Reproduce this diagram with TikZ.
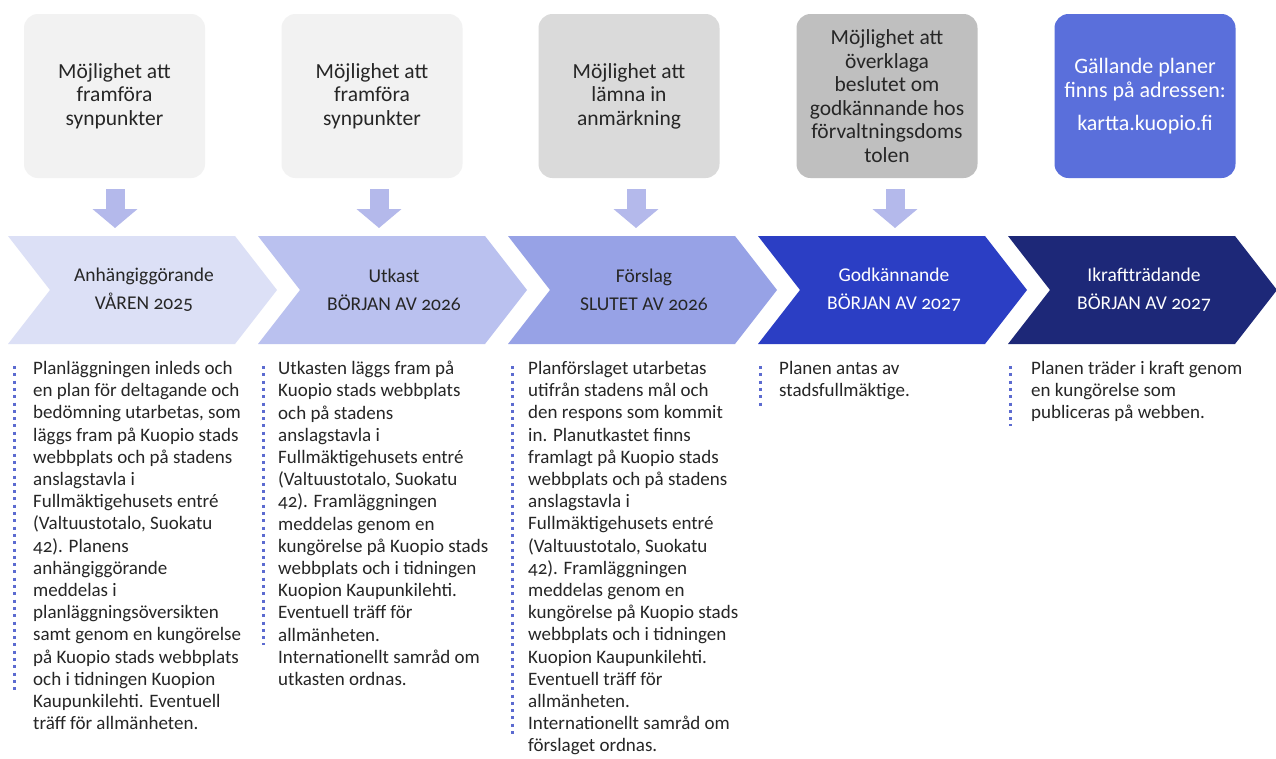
\documentclass[tikz,border=0pt]{standalone}
\usepackage{fontspec}
\setmainfont{Carlito}[Numbers=OldStyle]
\definecolor{boxA}{HTML}{F2F2F2}
\definecolor{boxC}{HTML}{DADADA}
\definecolor{boxD}{HTML}{BFBFBF}
\definecolor{boxE}{HTML}{5A6FDB}
\definecolor{arrowc}{HTML}{B4B9EB}
\definecolor{chA}{HTML}{DCE0F6}
\definecolor{chB}{HTML}{BAC1EF}
\definecolor{chC}{HTML}{97A2E6}
\definecolor{chD}{HTML}{2B3EC4}
\definecolor{chE}{HTML}{1D2878}
\definecolor{dotc}{HTML}{5C6BD0}
\definecolor{txt}{HTML}{262626}
\usetikzlibrary{arrows.meta}
\begin{document}
\begin{tikzpicture}[x=1pt,y=-1pt,
  topbox/.style={rounded corners=14pt, minimum width=181pt, minimum height=164pt, align=center, inner sep=0pt, text=txt, font=\fontsize{21.5}{23.5}\selectfont},
  chevlabel/.style={align=center, inner sep=0pt, font=\fontsize{19.5}{28}\selectfont},
  downarrow/.style={line width=19pt, arrowc, -{Triangle[width=44pt,length=19pt]}},
  dotline/.style={line width=3pt, dotc, dash pattern=on 3pt off 4.3pt},
  coltext/.style={anchor=north west, align=left, inner sep=0pt, text=txt, font=\fontsize{19}{22.2}\selectfont}]
\useasboundingbox (0,0) rectangle (1276,758);
\fill[white] (0,0) rectangle (1276,758);

% top boxes
\node[topbox, fill=boxA] (t1) at (114.5,96) {Möjlighet att\\framföra\\synpunkter};
\node[topbox, fill=boxA] (t2) at (372,96) {Möjlighet att\\framföra\\synpunkter};
\node[topbox, fill=boxC] (t3) at (629,96) {Möjlighet att\\lämna in\\anmärkning};
\node[topbox, fill=boxD] (t4) at (887,96) {Möjlighet att\\överklaga\\beslutet om\\godkännande hos\\förvaltningsdoms\\tolen};
\node[topbox, fill=boxE, text=white, font=\fontsize{22}{24}\selectfont] (t5) at (1145,96) {Gällande planer\\finns på adressen:\\[9pt]kartta.kuopio.fi};

% chevrons
\foreach \i/\c in {0/chA,1/chB,2/chC,3/chD,4/chE}{
  \pgfmathsetmacro{\xo}{8+250*\i}
  \fill[\c] (\xo,236) -- (\xo+227,236) -- (\xo+269,290) -- (\xo+227,344) -- (\xo,344) -- (\xo+42,290) -- cycle;
}
\node[chevlabel, text=txt] (c1) at (144,290) {Anhängiggörande\\VÅREN 2025};
\node[chevlabel, text=txt] (c2) at (394,290) {Utkast\\BÖRJAN AV 2026};
\node[chevlabel, text=txt] (c3) at (644,290) {Förslag\\SLUTET AV 2026};
\node[chevlabel, text=white] (c4) at (894,290) {Godkännande\\BÖRJAN AV 2027};
\node[chevlabel, text=white] (c5) at (1144,290) {Ikraftträdande\\BÖRJAN AV 2027};

% arrows
\coordinate (a1s) at (115,189); \coordinate (a1e) at (115,228);
\coordinate (a2s) at (379,189); \coordinate (a2e) at (379,228);
\coordinate (a3s) at (636,189); \coordinate (a3e) at (636,228);
\coordinate (a4s) at (895,189); \coordinate (a4e) at (895,228);
\draw[downarrow] (a1s) -- (a1e);
\draw[downarrow] (a2s) -- (a2e);
\draw[downarrow] (a3s) -- (a3e);
\draw[downarrow] (a4s) -- (a4e);

% dotted lines
\coordinate (d1s) at (14,366); \coordinate (d1e) at (14,694);
\coordinate (d2s) at (263,366); \coordinate (d2e) at (263,645);
\coordinate (d3s) at (512,366); \coordinate (d3e) at (512,738);
\coordinate (d4s) at (760,366); \coordinate (d4e) at (760,406);
\coordinate (d5s) at (1010,366); \coordinate (d5e) at (1010,426);
\draw[dotline] (d1s) -- (d1e);
\draw[dotline] (d2s) -- (d2e);
\draw[dotline] (d3s) -- (d3e);
\draw[dotline] (d4s) -- (d4e);
\draw[dotline] (d5s) -- (d5e);

% column texts
\node[coltext] (x1) at (33,361) {Planläggningen inleds och\\en plan för deltagande och\\bedömning utarbetas, som\\läggs fram på Kuopio stads\\webbplats och på stadens\\anslagstavla i\\Fullmäktigehusets entré\\(Valtuustotalo, Suokatu\\42). Planens\\anhängiggörande\\meddelas i\\planläggningsöversikten\\samt genom en kungörelse\\på Kuopio stads webbplats\\och i tidningen Kuopion\\Kaupunkilehti. Eventuell\\träff för allmänheten.};
\node[coltext] (x2) at (278,361) {Utkasten läggs fram på\\Kuopio stads webbplats\\och på stadens\\anslagstavla i\\Fullmäktigehusets entré\\(Valtuustotalo, Suokatu\\42). Framläggningen\\meddelas genom en\\kungörelse på Kuopio stads\\webbplats och i tidningen\\Kuopion Kaupunkilehti.\\Eventuell träff för\\allmänheten.\\Internationellt samråd om\\utkasten ordnas.};
\node[coltext] (x3) at (528,361) {Planförslaget utarbetas\\utifrån stadens mål och\\den respons som kommit\\in. Planutkastet finns\\framlagt på Kuopio stads\\webbplats och på stadens\\anslagstavla i\\Fullmäktigehusets entré\\(Valtuustotalo, Suokatu\\42). Framläggningen\\meddelas genom en\\kungörelse på Kuopio stads\\webbplats och i tidningen\\Kuopion Kaupunkilehti.\\Eventuell träff för\\allmänheten.\\Internationellt samråd om\\förslaget ordnas.};
\node[coltext] (x4) at (779,361) {Planen antas av\\stadsfullmäktige.};
\node[coltext] (x5) at (1031,361) {Planen träder i kraft genom\\en kungörelse som\\publiceras på webben.};
\end{tikzpicture}
\end{document}
